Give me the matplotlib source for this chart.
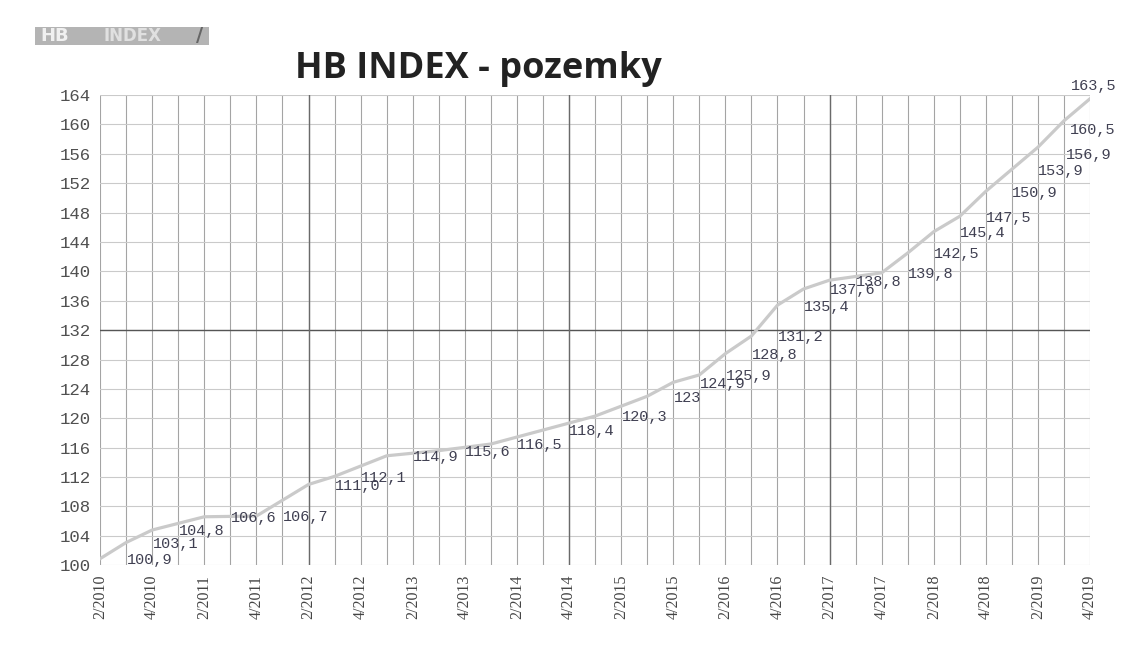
from matplotlib import pyplot as plt
from matplotlib.patches import Rectangle

# quarters, counted from 2/2010
periods = ["2/2010", "3/2010", "4/2010", "2/2011", "4/2011", "2/2012", "3/2012",
           "1/2013", "3/2013", "1/2014", "3/2014", "1/2015", "3/2015", "4/2015",
           "1/2016", "2/2016", "3/2016", "4/2016", "1/2017", "2/2017", "4/2017",
           "1/2018", "2/2018", "3/2018", "4/2018", "1/2019", "2/2019", "3/2019",
           "4/2019"]
values = [100.9, 103.1, 104.8, 106.6, 106.7, 111.0, 112.1, 114.9, 115.6, 116.5,
          118.4, 120.3, 123.0, 124.9, 125.9, 128.8, 131.2, 135.4, 137.6, 138.8,
          139.8, 142.5, 145.4, 147.5, 150.9, 153.9, 156.9, 160.5, 163.5]
point_labels = ["100,9", "103,1", "104,8", "106,6", "106,7", "111,0", "112,1",
                "114,9", "115,6", "116,5", "118,4", "120,3", "123", "124,9",
                "125,9", "128,8", "131,2", "135,4", "137,6", "138,8", "139,8",
                "142,5", "145,4", "147,5", "150,9", "153,9", "156,9", "160,5",
                "163,5"]
tick_labels = ["2/2010", "4/2010", "2/2011", "4/2011", "2/2012", "4/2012",
               "2/2013", "4/2013", "2/2014", "4/2014", "2/2015", "4/2015",
               "2/2016", "4/2016", "2/2017", "4/2017", "2/2018", "4/2018",
               "2/2019", "4/2019"]


def quarter_index(p):
    q, y = p.split("/")
    return (int(y) - 2010) * 4 + int(q) - 2


x = [quarter_index(p) for p in periods]
x_ticks = [quarter_index(t) for t in tick_labels]

plt.ioff()
fig = plt.figure(figsize=(11.25, 6.55), dpi=100, facecolor='w')
ax = fig.add_axes([0.089, 0.137, 0.880, 0.718])

# grid: every quarter vertically, every 4 points horizontally
for q in range(0, 39):
    ax.axvline(q, color='#a4a4a4', linewidth=0.8, zorder=0)
for v in range(100, 165, 4):
    ax.axhline(v, color='#cacaca', linewidth=0.8, zorder=0)
ax.axhline(132, color='#555555', linewidth=1.0, zorder=0)  # darker line in scan
for q in [8, 18, 28]:
    ax.axvline(q, color='#6a6a6a', linewidth=1.0, zorder=0)

ax.plot(x, values, color='#cacaca', linewidth=2.3, zorder=2)

# data labels, moved inside the chart at the right end like Excel does
offsets = {26: (20, -6), 27: (4, -7), 28: (-14, 9)}
for i, (xi, v, lab) in enumerate(zip(x, values, point_labels)):
    dx, dy = offsets.get(i, (19, -1))
    ax.annotate(lab, (xi, v), xytext=(dx, dy), textcoords='offset points',
                ha='left', va='center', fontsize=11, color='#404052',
                family='Liberation Mono', annotation_clip=False, zorder=3)

ax.set_xlim(0, 38)
ax.set_ylim(100, 164)
ax.set_yticks(range(100, 165, 4))
ax.set_xticks(x_ticks)
ax.set_xticklabels(tick_labels, rotation=90, fontsize=11.5, color='#444444',
                   family='Liberation Serif')
for t in ax.get_yticklabels():
    t.set_family('Liberation Mono')
    t.set_fontsize(12.5)
    t.set_color('#505050')
ax.tick_params(length=0, pad=7)
for s in ax.spines.values():
    s.set_visible(False)

# title and small logo
fig.text(0.425, 0.895, 'HB INDEX - pozemky', ha='center', va='center',
         fontsize=26, fontweight='bold', family='Open Sans', color='#222222')
fig.patches.append(Rectangle((0.031, 0.932), 0.155, 0.027, transform=fig.transFigure,
                             facecolor='#b4b4b4', edgecolor='none'))
fig.text(0.036, 0.9455, 'HB', ha='left', va='center', fontsize=13,
         fontweight='bold', color='#f0f0f0', family='DejaVu Sans')
fig.text(0.092, 0.9455, 'INDEX', ha='left', va='center', fontsize=12,
         fontweight='bold', color='#e0e0e0', family='DejaVu Sans')
fig.text(0.177, 0.9455, '/', ha='center', va='center', fontsize=14,
         fontweight='bold', color='#666666')

plt.savefig('out.png', dpi=100)
print("Plotted and Saved: out.png")
